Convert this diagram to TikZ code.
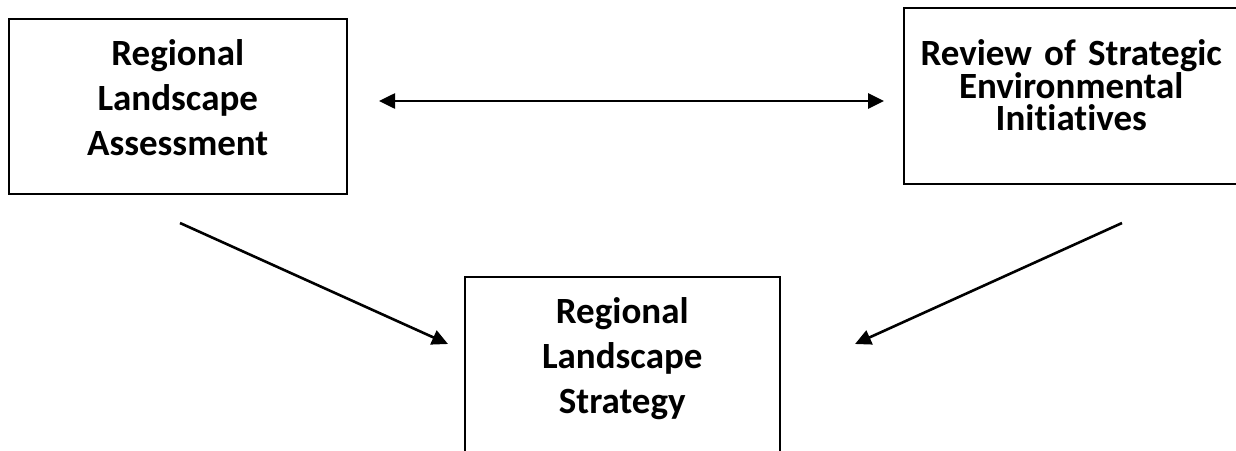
\documentclass[tikz,border=0pt]{standalone}
\usepackage{fontspec}
\setmainfont[Ligatures=NoCommon]{Carlito}
\usetikzlibrary{arrows.meta}

\tikzset{
  stagebox/.style={draw, line width=1.5pt, inner sep=0pt, align=center, anchor=north west,
    font=\fontsize{37}{45}\selectfont\bfseries},
  link/.style={line width=2.6pt, -{Triangle[length=16pt,width=15pt]}},
}

\begin{document}
\begin{tikzpicture}[x=1pt, y=-1pt]
  \clip (0,0) rectangle (1236,450);

  % Boxes (right and bottom ones run past the picture edge)
  \node[stagebox, text width=338pt, text height=47pt, text depth=128pt] (assess) at (8,18)
    {Regional\\Landscape\\Assessment};
  \node[stagebox, text width=335pt, text height=58pt, text depth=118pt,
    font=\fontsize{37}{32}\selectfont\bfseries] (review) at (903,7)
    {Review of Strategic\\Environmental\\Initiatives};
  \node[stagebox, text width=315pt, text height=47pt, text depth=200pt] (strategy) at (464,276)
    {Regional\\Landscape\\Strategy};

  % Free arrow ends
  \coordinate (linkL) at (379,101);
  \coordinate (linkR) at (884,101);
  \coordinate (fromA) at (180,223);
  \coordinate (toSL) at (448,344);
  \coordinate (fromR) at (1122,223);
  \coordinate (toSR) at (855,344);

  % Connectors
  \draw[link, {Triangle[length=16pt,width=15pt]}-{Triangle[length=16pt,width=15pt]}] (linkL) -- (linkR);
  \draw[link] (fromA) -- (toSL);
  \draw[link] (fromR) -- (toSR);
\end{tikzpicture}
\end{document}
